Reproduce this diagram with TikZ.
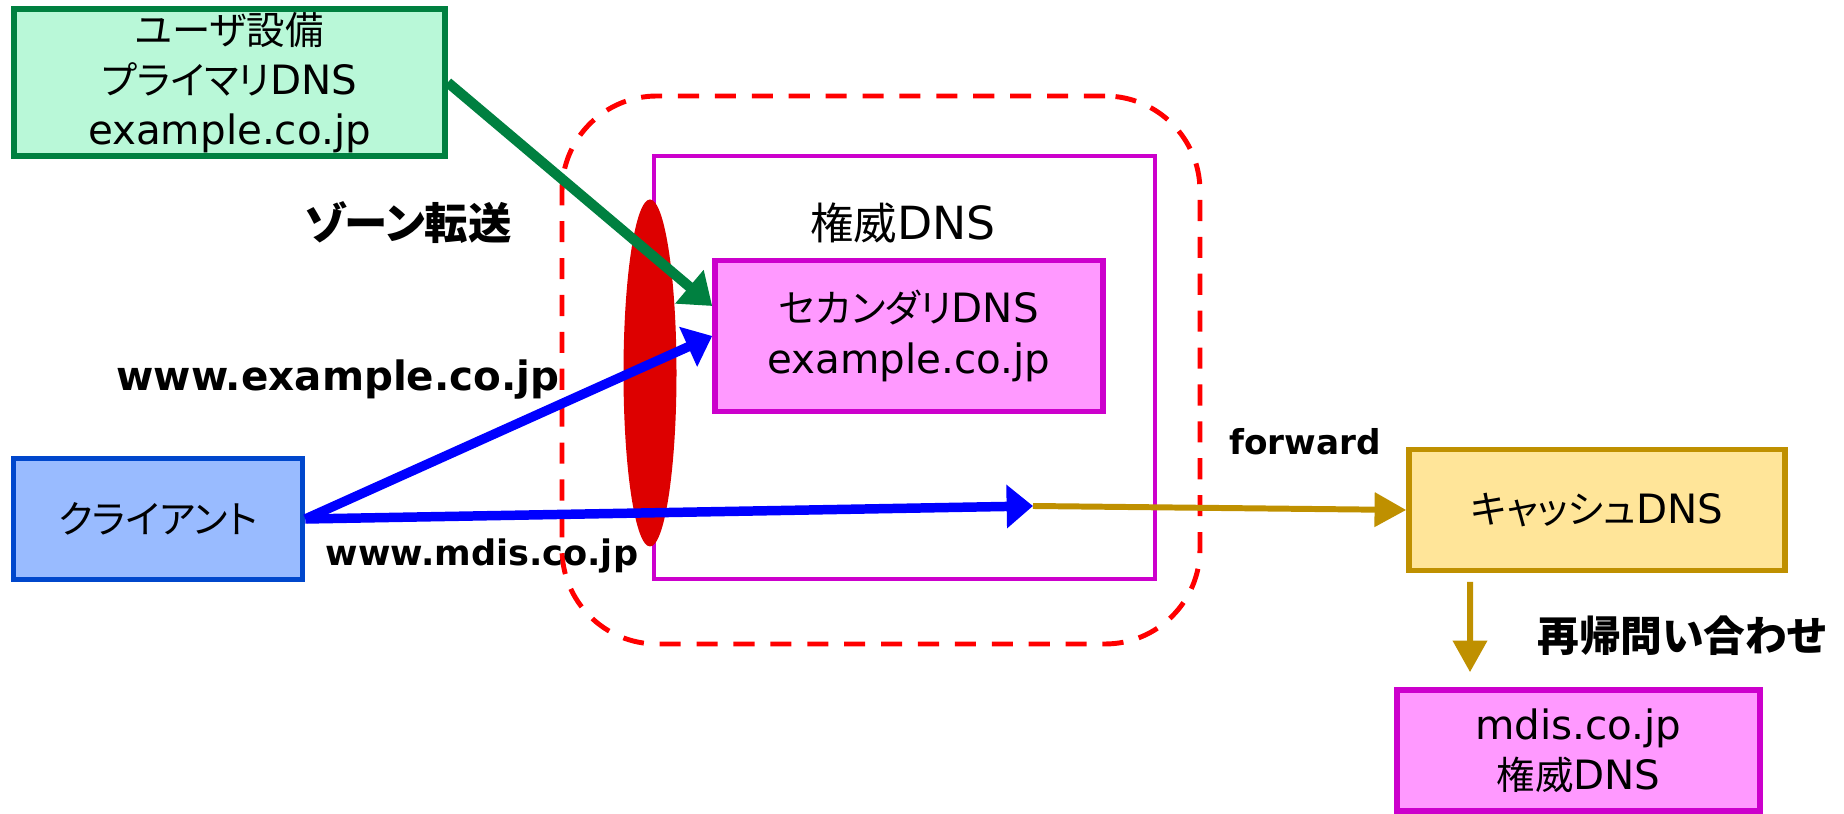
\documentclass[tikz,border=0pt]{standalone}
\usepackage{fontspec}
\setmainfont{DejaVu Sans}
\newfontfamily\jp{Noto Sans CJK JP}[Scale=0.95,RawFeature=+palt]
\usepackage{tikz}
\usetikzlibrary{arrows.meta,positioning,calc,shapes.geometric}
\definecolor{mintfill}{RGB}{185,248,216}
\definecolor{mintline}{RGB}{0,128,64}
\definecolor{authline}{RGB}{204,0,204}
\definecolor{authfill}{RGB}{255,153,255}
\definecolor{ovalred}{RGB}{221,0,0}
\definecolor{cliline}{RGB}{0,71,204}
\definecolor{clifill}{RGB}{153,187,255}
\definecolor{cacheline}{RGB}{191,144,0}
\definecolor{cachefill}{RGB}{255,229,153}

\begin{document}
\begin{tikzpicture}[
  box/.style={draw,line width=3.2pt,inner sep=0pt,align=center,font=\fontsize{23}{28.5}\selectfont},
  lbl/.style={font=\bfseries\fontsize{21}{25}\selectfont},
  jlbl/.style={font=\jp\bfseries\fontsize{26}{30}\selectfont},
  bluearr/.style={-{Triangle[length=15pt,width=24pt]},blue,line width=5.4pt},
  goldarr/.style={-{Triangle[length=18pt,width=19pt]},cacheline,line width=3.4pt}]
  \useasboundingbox (0,0) rectangle (36.88,16.28);
  % zone
  \node[draw=red,line width=2.8pt,dash pattern=on 12pt off 9pt,rounded corners=1.9cm,
        minimum width=12.76cm,minimum height=10.96cm] (grp) at (17.62,8.88) {};
  \node[box,draw=authline,line width=2.8pt,minimum width=10.02cm,minimum height=8.46cm] (auth) at (18.09,8.93) {};
  \node[font=\fontsize{26}{30}\selectfont] (authlbl) at (18.06,11.82) {{\jp 権威}DNS};
  \node[box,draw=authline,fill=authfill,minimum width=7.76cm,minimum height=3.02cm] (sec) at (18.18,9.56)
    {{\jp セカンダリ}DNS\\example.co.jp};
  \node[ellipse,fill=ovalred,inner sep=0pt,minimum width=1.06cm,minimum height=6.94cm] (oval) at (13.0,8.82) {};
  % boxes outside
  \node[box,draw=mintline,fill=mintfill,minimum width=8.62cm,minimum height=2.94cm] (user) at (4.59,14.63)
    {{\jp ユーザ設備}\\{\jp プライマリ}DNS\\example.co.jp};
  \node[box,draw=cliline,fill=clifill,minimum width=5.78cm,minimum height=2.42cm] (cli) at (3.16,5.90) {{\jp クライアント}};
  \node[box,draw=cacheline,fill=cachefill,minimum width=7.52cm,minimum height=2.42cm] (cache) at (31.94,6.08) {{\jp キャッシュ}DNS};
  \node[box,draw=authline,fill=authfill,minimum width=7.26cm,minimum height=2.42cm] (mdis) at (31.57,1.27)
    {mdis.co.jp\\{\jp 権威}DNS};
  % labels
  \node[jlbl] (zonelbl) at (8.16,11.82) {ゾーン転送};
  \node[lbl,font=\bfseries\fontsize{23}{27}\selectfont] (q1) at (6.76,8.68) {www.example.co.jp};
  \node[lbl,font=\bfseries\fontsize{20}{24}\selectfont] (q2) at (9.64,5.16) {www.mdis.co.jp};
  \node[lbl,font=\bfseries\fontsize{19.5}{24}\selectfont] (fw) at (26.1,7.44) {forward};
  \node[jlbl,font=\jp\bfseries\fontsize{25}{30}\selectfont] (rec) at (33.64,3.56) {再帰問い合わせ};
  % arrows
  \coordinate (fwd) at (20.66,6.16);
  \draw[-{Triangle[length=17pt,width=24pt]},mintline,line width=5.8pt] (user.east) -- ([yshift=0.6cm]sec.west);
  \draw[bluearr] (cli.east) -- (sec.west);
  \draw[bluearr] (cli.east) -- (fwd);
  \draw[goldarr] (fwd) -- (cache.west);
  \draw[goldarr] ([xshift=-2.54cm,yshift=-0.17cm]cache.south) -- ([xshift=-2.17cm,yshift=0.3cm]mdis.north);
\end{tikzpicture}
\end{document}
